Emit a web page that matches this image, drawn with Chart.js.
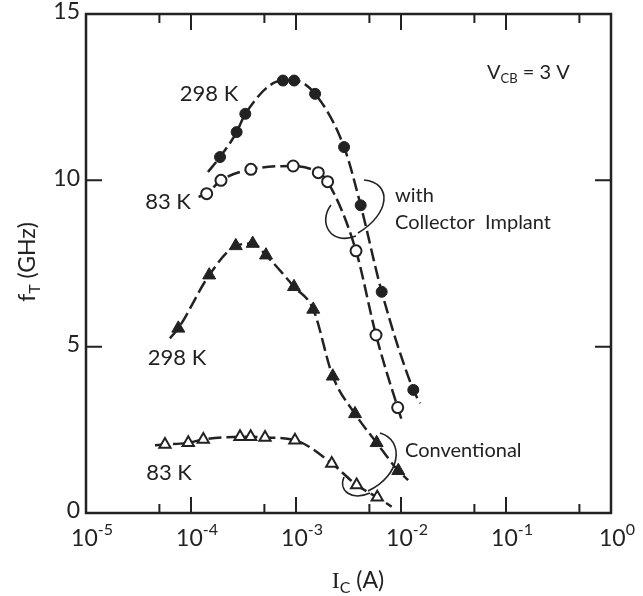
<!DOCTYPE html>
<html>
<head>
<meta charset="utf-8">
<title>fT vs IC</title>
<script src="https://cdn.jsdelivr.net/npm/chart.js"></script>
<style>
  html, body { margin: 0; padding: 0; background: #fff; }
  canvas { display: block; }
</style>
</head>
<body>
<canvas id="ftChart" width="643" height="596"></canvas>
<script>
// with collector implant, 298 K (filled circles)
const implant298I = [1.89e-4, 2.72e-4, 3.29e-4, 7.5e-4, 9.6e-4, 1.52e-3, 2.87e-3, 4.13e-3, 6.55e-3, 1.31e-2];
const implant298F = [10.7, 11.45, 12.0, 13.0, 13.0, 12.6, 11.0, 9.25, 6.65, 3.7];
const implant298TailI = [1.45e-4, 1.52e-2];
const implant298TailF = [10.25, 3.3];

// with collector implant, 83 K (open circles)
const implant83I = [1.41e-4, 1.93e-4, 3.72e-4, 9.4e-4, 1.63e-3, 2.0e-3, 3.73e-3, 5.78e-3, 9.3e-3];
const implant83F = [9.6, 10.0, 10.33, 10.43, 10.23, 9.96, 7.88, 5.35, 3.17];
const implant83TailI = [1.18e-4, 1.04e-2];
const implant83TailF = [9.5, 2.7];

// conventional, 298 K (filled triangles)
const conv298I = [7.57e-5, 1.49e-4, 2.67e-4, 3.87e-4, 5.18e-4, 9.57e-4, 1.46e-3, 2.24e-3, 3.65e-3, 5.86e-3, 9.42e-3];
const conv298F = [5.55, 7.15, 8.03, 8.1, 7.75, 6.8, 6.12, 4.11, 2.98, 2.11, 1.27];
const conv298TailI = [6.3e-5, 1.17e-2];
const conv298TailF = [5.25, 0.99];

// conventional, 83 K (open triangles)
const conv83I = [5.65e-5, 9.42e-5, 1.31e-4, 2.93e-4, 3.7e-4, 5.07e-4, 9.77e-4, 2.19e-3, 3.78e-3, 5.94e-3];
const conv83F = [2.06, 2.11, 2.21, 2.29, 2.29, 2.27, 2.19, 1.49, 0.84, 0.47];
const conv83TailI = [4.54e-5, 8.15e-3];
const conv83TailF = [2.04, 0.19];

// axes
const xMajor = [1e-5, 1e-4, 1e-3, 1e-2, 1e-1, 1e0];
const xMajorExp = ['-5', '-4', '-3', '-2', '-1', '0'];
const xMinor = [5e-5, 5e-4, 5e-3, 5e-2, 5e-1];
const yTicks = [0, 5, 10, 15];

const INK = '#222';
const FONT = 'Lato, "DejaVu Sans", sans-serif';

function series(label, xs, ys, tailX, tailY, style) {
  const data = [{ x: tailX[0], y: tailY[0] }]
    .concat(xs.map((x, i) => ({ x: x, y: ys[i] })))
    .concat([{ x: tailX[1], y: tailY[1] }]);
  const last = data.length - 1;
  return {
    label: label,
    data: data,
    borderColor: INK,
    borderWidth: 2.5,
    borderDash: [13, 5],
    cubicInterpolationMode: 'monotone',
    fill: false,
    pointStyle: style.shape,
    pointRadius: c => (c.dataIndex === 0 || c.dataIndex === last) ? 0 : style.r,
    pointBackgroundColor: style.filled ? INK : '#fff',
    pointBorderColor: INK,
    pointBorderWidth: style.filled ? 1 : 2
  };
}

function rich(ctx, parts, x, y, align) {
  let w = 0;
  parts.forEach(p => {
    ctx.font = (p.weight || '') + ' ' + p.size + 'px ' + (p.family || FONT);
    p.w = ctx.measureText(p.t).width;
    w += p.w;
  });
  let cx = align === 'center' ? x - w / 2 : align === 'right' ? x - w : x;
  ctx.textAlign = 'left';
  ctx.textBaseline = 'alphabetic';
  parts.forEach(p => {
    ctx.font = (p.weight || '') + ' ' + p.size + 'px ' + (p.family || FONT);
    ctx.fillText(p.t, cx, y + (p.dy || 0));
    cx += p.w;
  });
}

const paperAxes = {
  id: 'paperAxes',
  afterDraw(chart) {
    const ctx = chart.ctx;
    const a = chart.chartArea;
    const xs = chart.scales.x, ys = chart.scales.y;
    ctx.save();
    ctx.strokeStyle = INK;
    ctx.fillStyle = INK;
    ctx.lineWidth = 2.5;
    ctx.setLineDash([]);
    ctx.strokeRect(a.left, a.top, a.right - a.left, a.bottom - a.top);

    // inward ticks
    ctx.lineWidth = 2;
    ctx.beginPath();
    xMajor.forEach(v => {
      const px = xs.getPixelForValue(v);
      ctx.moveTo(px, a.bottom); ctx.lineTo(px, a.bottom - 16);
      ctx.moveTo(px, a.top); ctx.lineTo(px, a.top + 16);
    });
    xMinor.forEach(v => {
      const px = xs.getPixelForValue(v);
      ctx.moveTo(px, a.bottom); ctx.lineTo(px, a.bottom - 9);
      ctx.moveTo(px, a.top); ctx.lineTo(px, a.top + 9);
    });
    yTicks.forEach(v => {
      const py = ys.getPixelForValue(v);
      ctx.moveTo(a.left, py); ctx.lineTo(a.left + 16, py);
      ctx.moveTo(a.right, py); ctx.lineTo(a.right - 16, py);
    });
    ctx.stroke();

    // tick labels
    xMajor.forEach((v, i) => {
      const px = xs.getPixelForValue(v);
      rich(ctx, [{ t: '10', size: 23 }, { t: xMajorExp[i], size: 16, dy: -11 }], px + 6, a.bottom + 33, 'center');
    });
    ctx.font = '23px ' + FONT;
    ctx.textAlign = 'right';
    ctx.textBaseline = 'middle';
    yTicks.forEach(v => {
      ctx.fillText(String(v), a.left - 6, ys.getPixelForValue(v) - 2);
    });

    // axis titles
    rich(ctx, [
      { t: 'I', size: 24, family: '"Liberation Serif", serif' },
      { t: 'C', size: 16, dy: 5 },
      { t: ' (A)', size: 23 }
    ], 358, 588, 'center');
    ctx.save();
    ctx.translate(27, 262);
    ctx.rotate(-Math.PI / 2);
    rich(ctx, [{ t: 'f', size: 23 }, { t: 'T', size: 16, dy: 5 }, { t: ' (GHz)', size: 23 }], 0, 8, 'center');
    ctx.restore();

    // annotations
    rich(ctx, [{ t: '298 K', size: 22 }], 209, 101, 'center');
    rich(ctx, [{ t: '83 K', size: 22 }], 168, 209, 'center');
    rich(ctx, [{ t: '298 K', size: 22 }], 177, 365, 'center');
    rich(ctx, [{ t: '83 K', size: 22 }], 169, 480, 'center');
    rich(ctx, [{ t: 'with', size: 20 }], 395, 202, 'left');
    rich(ctx, [{ t: 'Collector  Implant', size: 20 }], 395, 229, 'left');
    rich(ctx, [{ t: 'Conventional', size: 20 }], 405, 457, 'left');
    rich(ctx, [
      { t: 'V', size: 20 }, { t: 'CB', size: 13, dy: 4 }, { t: ' = 3 V', size: 20 }
    ], 487, 79, 'left');

    // grouping brackets
    ctx.lineWidth = 1.6;
    ctx.beginPath();
    ctx.moveTo(364, 180); ctx.bezierCurveTo(393, 183, 390, 214, 358, 233);
    ctx.moveTo(331, 205); ctx.bezierCurveTo(318, 222, 330, 246, 356, 236);
    ctx.moveTo(380, 433); ctx.bezierCurveTo(405, 440, 401, 476, 368, 491);
    ctx.moveTo(344, 477); ctx.bezierCurveTo(338, 491, 352, 501, 370, 493);
    ctx.stroke();
    ctx.restore();
  }
};

new Chart(document.getElementById('ftChart').getContext('2d'), {
  type: 'line',
  data: {
    datasets: [
      series('298 K, with collector implant', implant298I, implant298F, implant298TailI, implant298TailF, { shape: 'circle', r: 5.5, filled: true }),
      series('83 K, with collector implant', implant83I, implant83F, implant83TailI, implant83TailF, { shape: 'circle', r: 5.5, filled: false }),
      series('298 K, conventional', conv298I, conv298F, conv298TailI, conv298TailF, { shape: 'triangle', r: 7.5, filled: true }),
      series('83 K, conventional', conv83I, conv83F, conv83TailI, conv83TailF, { shape: 'triangle', r: 6.5, filled: false })
    ]
  },
  options: {
    responsive: false,
    animation: false,
    devicePixelRatio: 1,
    layout: { padding: { left: 86, top: 14, right: 32, bottom: 83 } },
    plugins: { legend: { display: false }, tooltip: { enabled: false } },
    scales: {
      x: { type: 'logarithmic', min: 1e-5, max: 1, display: false },
      y: { type: 'linear', min: 0, max: 15, display: false }
    }
  },
  plugins: [paperAxes]
});
</script>
</body>
</html>
